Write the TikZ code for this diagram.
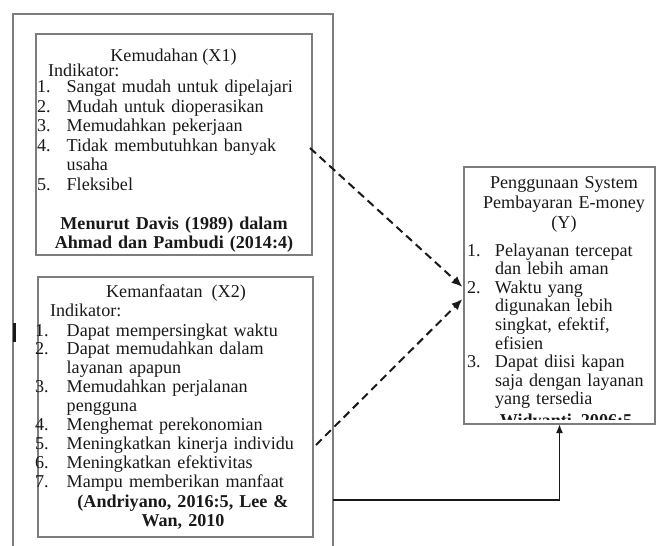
\documentclass[tikz,border=0pt]{standalone}
\usepackage{fontspec}
\setmainfont{Liberation Serif}
\usetikzlibrary{arrows.meta,calc}
\newcommand\itm[3]{\noindent\makebox[#1][l]{#2}#3\par}
\newcommand\cnt[2]{\noindent\hspace*{#1}#2\par}
\definecolor{bordergray}{RGB}{125,125,125}
\definecolor{inkcol}{RGB}{25,25,25}
\tikzset{
  boxst/.style={draw=bordergray, line width=1.4pt, inner sep=0pt, outer sep=0pt, rectangle, anchor=north west},
  txt/.style={inner sep=0pt, outer sep=0pt, text=inkcol},
  dsh/.style={draw=inkcol, line width=2pt, dash pattern=on 8pt off 5pt, -{Latex[length=11pt,width=9pt]}},
  sld/.style={draw=inkcol, line width=1.7pt, -{Latex[length=9pt,width=7pt]}},
}
\begin{document}
\begin{tikzpicture}[x=1pt,y=-1pt]
\useasboundingbox (0,0) rectangle (656,546);
% boxes
\node[boxst, minimum width=320, minimum height=560] (outer) at (13,14) {};
\node[boxst, minimum width=276, minimum height=221] (x1) at (36,34) {};
\node[boxst, minimum width=275, minimum height=260] (x2) at (38,277) {};
\node[boxst, minimum width=191, minimum height=257] (ybox) at (464,167) {};
% small mark on outer border
\draw[line width=3pt, inkcol] (14,323) -- (14,342);
% X1 texts
\node[txt, anchor=base, font=\fontsize{18.1}{19.5}\selectfont] (x1title) at (173.5,61) {Kemudahan (X1)};
\node[txt, anchor=base west, font=\fontsize{18.1}{19.5}\selectfont] (x1ind) at (48,76) {Indikator:};
\node[txt, anchor=base west, text width=300, font=\fontsize{18.1}{19.5}\selectfont] (x1list) at (37,92.5) {%
\itm{29.7pt}{1.}{Sangat mudah untuk dipelajari}%
\itm{29.7pt}{2.}{Mudah untuk dioperasikan}%
\itm{29.7pt}{3.}{Memudahkan pekerjaan}%
\itm{29.7pt}{4.}{Tidak membutuhkan banyak}%
\cnt{29.7pt}{usaha}%
\itm{29.7pt}{5.}{Fleksibel}};
\node[txt, anchor=base, text width=276, align=center, font=\bfseries\fontsize{18.1}{19}\selectfont] (x1cite) at (174,229) {Menurut Davis (1989) dalam\\Ahmad dan Pambudi (2014:4)};
% X2 texts
\node[txt, anchor=base, font=\fontsize{18.1}{19}\selectfont] (x2title) at (176,297) {Kemanfaatan\ \ (X2)};
\node[txt, anchor=base west, font=\fontsize{18.1}{19}\selectfont] (x2ind) at (50,316) {Indikator:};
\node[txt, anchor=base west, text width=300, font=\fontsize{18.1}{18.9}\selectfont] (x2list) at (35,336) {%
\itm{31.7pt}{1.}{Dapat mempersingkat waktu}%
\itm{31.7pt}{2.}{Dapat memudahkan dalam}%
\cnt{31.7pt}{layanan apapun}%
\itm{31.7pt}{3.}{Memudahkan perjalanan}%
\cnt{31.7pt}{pengguna}%
\itm{31.7pt}{4.}{Menghemat perekonomian}%
\itm{31.7pt}{5.}{Meningkatkan kinerja individu}%
\itm{31.7pt}{6.}{Meningkatkan efektivitas}%
\itm{31.7pt}{7.}{Mampu memberikan manfaat}};
\node[txt, anchor=base, text width=276, align=center, font=\bfseries\fontsize{18.1}{19}\selectfont] (x2cite) at (183,507) {(Andriyano, 2016:5, Lee \&\\Wan, 2010};
% Y texts
\node[txt, anchor=base, text width=200, align=center, font=\fontsize{18.1}{20}\selectfont] (ytitle) at (564,188) {Penggunaan System\\Pembayaran E-money\\(Y)};
\node[txt, anchor=base west, text width=200, font=\fontsize{18.1}{18.6}\selectfont] (ylist) at (467,256) {%
\itm{28pt}{1.}{Pelayanan tercepat}%
\cnt{28pt}{dan lebih aman}%
\itm{28pt}{2.}{Waktu yang}%
\cnt{28pt}{digunakan lebih}%
\cnt{28pt}{singkat, efektif,}%
\cnt{28pt}{efisien}%
\itm{28pt}{3.}{Dapat diisi kapan}%
\cnt{28pt}{saja dengan layanan}%
\cnt{28pt}{yang tersedia}};
\begin{scope}
\clip (ybox.north west) rectangle ($(ybox.south east)+(0,-5)$);
\node[txt, anchor=base, font=\bfseries\fontsize{18.1}{19}\selectfont] (ycite) at (566,426) {Widyanti, 2006:5};
\end{scope}
% connectors
\coordinate (d1s) at ($(x1.east)+(-2,3.5)$);
\coordinate (d1e) at ($(ybox.west)+(-1.5,-8.5)$);
\coordinate (d2s) at ($(x2.east)+(3,38)$);
\coordinate (d2e) at ($(ybox.west)+(-1.5,3.5)$);
\draw[dsh] (d1s) -- (d1e);
\draw[dsh] (d2s) -- (d2e);
\coordinate (sStart) at (outer.east |- 0,500);
\draw[sld] (sStart) -| (ybox.south);
\end{tikzpicture}
\end{document}
